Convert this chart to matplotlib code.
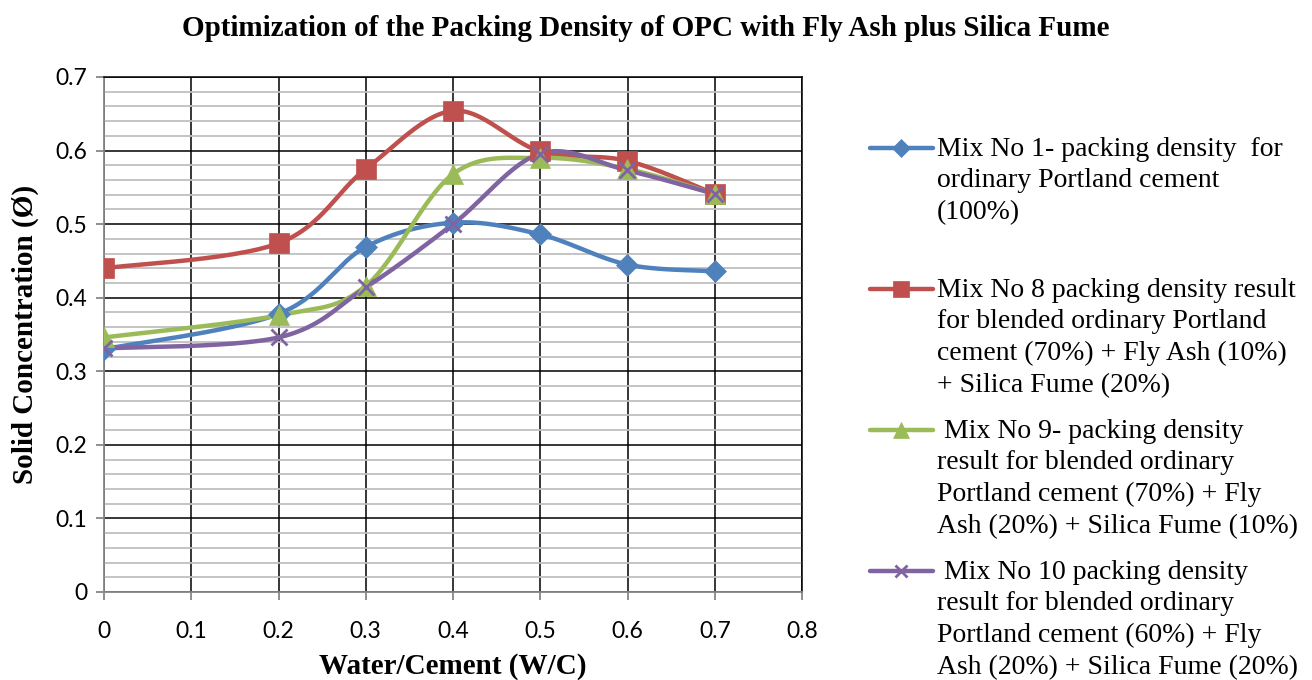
import numpy as np
import matplotlib.pyplot as plt
from matplotlib.lines import Line2D
from matplotlib.ticker import MultipleLocator, FuncFormatter

# water/cement ratios and solid concentration
wc = [0, 0.2, 0.3, 0.4, 0.5, 0.6, 0.7]
mix1 = [0.330, 0.378, 0.469, 0.502, 0.486, 0.445, 0.436]
mix8 = [0.440, 0.474, 0.575, 0.654, 0.599, 0.586, 0.541]
mix9 = [0.346, 0.376, 0.416, 0.568, 0.590, 0.575, 0.541]
mix10 = [0.331, 0.346, 0.414, 0.500, 0.596, 0.573, 0.541]

labels = [
    "Mix No 1- packing density  for\nordinary Portland cement\n(100%)",
    "Mix No 8 packing density result\nfor blended ordinary Portland\ncement (70%) + Fly Ash (10%)\n+ Silica Fume (20%)",
    " Mix No 9- packing density\nresult for blended ordinary\nPortland cement (70%) + Fly\nAsh (20%) + Silica Fume (10%)",
    " Mix No 10 packing density\nresult for blended ordinary\nPortland cement (60%) + Fly\nAsh (20%) + Silica Fume (20%)",
]
colors = ['#4F81BD', '#C0504D', '#9BBB59', '#8064A2']
markers = ['D', 's', '^', 'x']
msizes = [11, 14, 14, 11]

serif = 'Liberation Serif'
tickfont = 'Lato'


def smooth(x, y, n=30):
    # excel style smoothed line (bezier through points)
    x = np.asarray(x, float)
    y = np.asarray(y, float)
    px = np.concatenate([[x[0]], x, [x[-1]]])
    py = np.concatenate([[y[0]], y, [y[-1]]])
    xs, ys = [], []
    t = np.linspace(0, 1, n)
    for i in range(1, len(px) - 2):
        p0 = np.array([px[i], py[i]])
        p3 = np.array([px[i + 1], py[i + 1]])
        p1 = p0 + (p3 - np.array([px[i - 1], py[i - 1]])) / 6
        p2 = p3 - (np.array([px[i + 2], py[i + 2]]) - p0) / 6
        b = ((1 - t) ** 3)[:, None] * p0 + (3 * (1 - t) ** 2 * t)[:, None] * p1 \
            + (3 * (1 - t) * t ** 2)[:, None] * p2 + (t ** 3)[:, None] * p3
        xs.extend(b[:, 0])
        ys.extend(b[:, 1])
    return xs, ys


fig = plt.figure(figsize=(13.12, 6.8), dpi=100)
ax = fig.add_axes([104 / 1312, 88 / 680, 698 / 1312, 515 / 680])

series = [mix1, mix8, mix9, mix10]
for vals, c, m, ms in zip(series, colors, markers, msizes):
    sx, sy = smooth(wc, vals)
    ax.plot(sx, sy, color=c, lw=3.2, solid_capstyle='round', zorder=3)
    ax.plot(wc, vals, ls='none', marker=m, color=c, ms=ms, mew=2 if m == 'x' else 0.5, zorder=4)

ax.set_xlim(0, 0.8)
ax.set_ylim(0, 0.7)
ax.xaxis.set_major_locator(MultipleLocator(0.1))
ax.yaxis.set_major_locator(MultipleLocator(0.1))
ax.yaxis.set_minor_locator(MultipleLocator(0.02))
fmt = FuncFormatter(lambda v, p: f"{v:g}")
ax.xaxis.set_major_formatter(fmt)
ax.yaxis.set_major_formatter(fmt)

ax.grid(which='major', axis='both', color='black', lw=1.1, zorder=1)
ax.grid(which='minor', axis='y', color='#BFBFBF', lw=1.3, zorder=0)
ax.set_axisbelow(True)
for s in ['left', 'bottom']:
    ax.spines[s].set_color('#868686')
    ax.spines[s].set_linewidth(1.3)
for s in ['top', 'right']:
    ax.spines[s].set_color('black')
    ax.spines[s].set_linewidth(1.1)
ax.tick_params(which='major', direction='out', length=6, width=1.3, color='#868686',
               labelsize=16.5)
ax.tick_params(axis='x', pad=15)
ax.tick_params(axis='y', pad=6)
ax.tick_params(which='minor', length=0)
for lb in ax.get_xticklabels() + ax.get_yticklabels():
    lb.set_fontfamily(tickfont)

ax.set_xlabel('Water/Cement (W/C)', fontfamily=serif, fontweight='bold', fontsize=21, labelpad=8)
ax.set_ylabel('Solid Concentration (Ø)', fontfamily=serif, fontweight='bold', fontsize=21, labelpad=12)
fig.text(646 / 1312, 1 - 28 / 680, 'Optimization of the Packing Density of OPC with Fly Ash plus Silica Fume',
         ha='center', va='center', fontfamily=serif, fontweight='bold', fontsize=21)

# legend drawn by hand, excel style
tops = [148, 289, 430, 571]
for lab, c, m, ms, ty in zip(labels, colors, markers, msizes, tops):
    yy = 1 - ty / 680
    fig.add_artist(Line2D([870 / 1312, 933 / 1312], [yy, yy], transform=fig.transFigure,
                          color=c, lw=3.2, solid_capstyle='round'))
    fig.add_artist(Line2D([901 / 1312], [yy], transform=fig.transFigure, ls='none',
                          marker=m, color=c, ms=ms * 0.8, mew=2 if m == 'x' else 0.5))
    fig.text(937 / 1312, yy + 11 / 680, lab, ha='left', va='top', fontfamily=serif,
             fontsize=20, linespacing=1.34)

fig.savefig('out.png', dpi=100)
